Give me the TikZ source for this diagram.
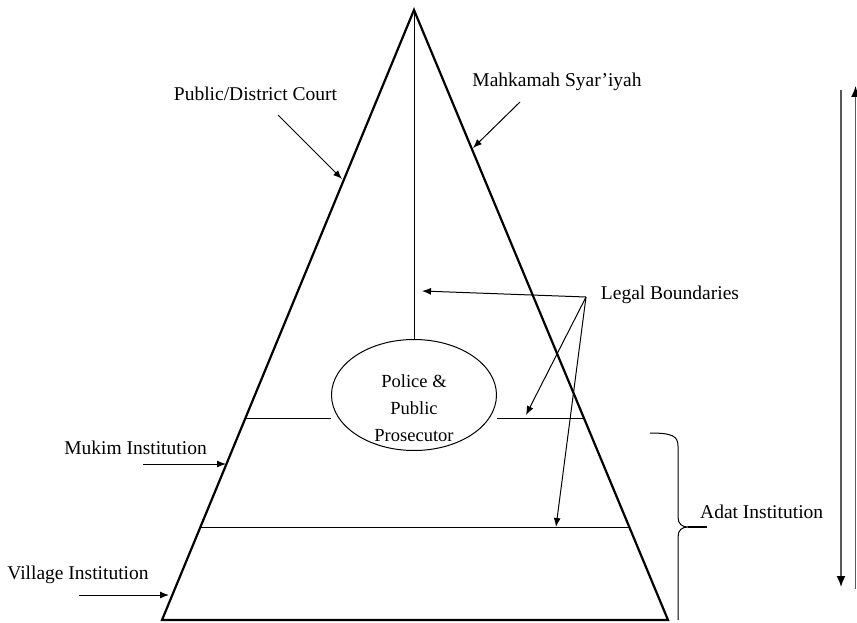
\documentclass[tikz,border=0pt]{standalone}
\usepackage{fontspec}
\setmainfont{Liberation Serif}
\usetikzlibrary{shapes.geometric,arrows.meta,calc}
\begin{document}
\begin{tikzpicture}[x=1pt,y=-1pt,
  lbl/.style={font=\fontsize{19.5}{23}\selectfont, inner sep=0pt},
  edge/.style={line width=2.2pt},
  thin/.style={line width=1pt},
  ptr/.style={line width=1pt,-{Latex[length=9pt,width=7pt]}},
  gray arrow/.style={line width=1.6pt,draw=black!65,-{Latex[length=11pt,width=9pt,fill=black,color=black]}}]
\useasboundingbox (0,0) rectangle (857,623);
% triangle
\coordinate (apex) at (414,10);
\coordinate (bl) at (162,620);
\coordinate (br) at (668,620);
\draw[edge, line join=miter] (apex) -- (bl) -- (br) -- cycle;
% ellipse
\node[ellipse, draw, thin, minimum width=165pt, minimum height=111pt, inner sep=0pt] (pol) at (414,395) {};
\node[lbl, align=center, font=\fontsize{18.5}{27}\selectfont] (poltext) at (414,408) {Police \&\\Public\\Prosecutor};
\draw[thin] (apex) -- (pol.north);
% horizontal lines
\coordinate (h1l) at (245.5,418);
\coordinate (h1r) at (584,418);
\draw[thin] (h1l) -- (h1l -| pol.west);
\draw[thin] (pol.east |- h1r) -- (h1r);
\coordinate (h2l) at (200.5,527);
\coordinate (h2r) at (629,527);
\draw[thin] (h2l) -- (h2r);
% legal boundaries
\node[lbl] (legal) at (670,295) {Legal Boundaries};
\coordinate (lb) at (586,297);
\coordinate (t1) at (422,291);
\coordinate (t2) at (526,415);
\coordinate (t3) at (556,527);
\draw[ptr] (lb) -- (t1);
\draw[ptr] (lb) -- (t2);
\draw[ptr] (lb) -- (t3);
% courts
\node[lbl] (pdc) at (255.5,94) {Public/District Court};
\coordinate (pdcs) at (278,115);
\coordinate (pdct) at (342,179);
\draw[ptr] (pdcs) -- (pdct);
\node[lbl] (ms) at (557,82) {Mahkamah Syar'iyah};
\coordinate (mss) at (520,102);
\coordinate (mst) at (473,148);
\draw[ptr] (mss) -- (mst);
% institutions
\node[lbl] (mukim) at (135.5,448) {Mukim Institution};
\coordinate (mks) at (143,464);
\coordinate (mkt) at (226,464);
\draw[ptr] (mks) -- (mkt);
\node[lbl] (village) at (78,575) {Village Institution};
\coordinate (vs) at (79,595);
\coordinate (vt) at (169,595);
\draw[ptr] (vs) -- (vt);
% brace
\coordinate (bt) at (650,433);
\coordinate (btip) at (688,527);
\coordinate (bb) at (678,620);
\draw[thin] (bt) .. controls (672,433) and (678,436) .. (678,446)
  -- (678,517) .. controls (678,524) and (682,527) .. (btip)
  .. controls (682,527) and (678,530) .. (678,537) -- (bb);
\coordinate (bend) at (707,527);
\draw[line width=1.4pt] (btip) -- (bend);
\node[lbl, anchor=west] (adat) at (700,512) {Adat Institution};
% right arrows
\coordinate (d1) at (841,90);
\coordinate (d2) at (841,587);
\draw[gray arrow] (d1) -- (d2);
\coordinate (u1) at (855.5,589);
\coordinate (u2) at (855.5,86);
\draw[gray arrow] (u1) -- (u2);
\end{tikzpicture}
\end{document}
